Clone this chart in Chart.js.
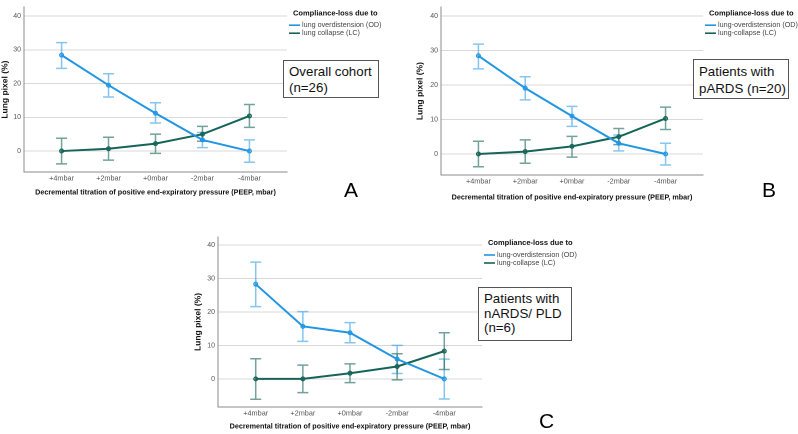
<!DOCTYPE html>
<html>
<head>
<meta charset="utf-8">
<script src="https://cdn.jsdelivr.net/npm/chart.js@4.4.1/dist/chart.umd.min.js"></script>
<style>
  body { margin: 0; background: #fff; width: 798px; height: 434px; position: relative; overflow: hidden; font-family: "Liberation Sans", Arial, sans-serif; }
  canvas { position: absolute; }
  .box { position: absolute; box-sizing: border-box; border: 1px solid #555; background: #fff; font-size: 13.3px; color: #111; white-space: nowrap; }
  .letter { position: absolute; font-size: 21px; line-height: 21px; color: #000; }
</style>
</head>
<body>
<canvas id="chartA"></canvas>
<canvas id="chartB"></canvas>
<canvas id="chartC"></canvas>

<div class="box" style="left:283px;top:60px;width:96px;height:38px;padding:3px 5px;line-height:16px;">Overall cohort<br>(n=26)</div>
<div class="box" style="left:693px;top:59px;width:96px;height:40px;padding:3px 5px;line-height:17px;">Patients with<br>pARDS (n=20)</div>
<div class="box" style="left:478px;top:287px;width:94px;height:54px;padding:4px 5px;line-height:14.5px;">Patients with<br>nARDS/ PLD<br>(n=6)</div>

<div class="letter" style="left:344px;top:179px;">A</div>
<div class="letter" style="left:762px;top:179px;">B</div>
<div class="letter" style="left:539px;top:410px;">C</div>

<script>
/* ---- data ---- */
const pressures = ['+4mbar', '+2mbar', '+0mbar', '-2mbar', '-4mbar'];
const yTicks = [0, 10, 20, 30, 40];

// A - overall cohort
const odA   = [28.4, 19.5, 11.2, 3.3, 0];
const odAHi = [32.1, 22.9, 14.3, 5.5, 3.3];
const odALo = [24.5, 16.0, 8.3, 1.0, -3.3];
const lcA   = [0, 0.7, 2.2, 5.0, 10.4];
const lcAHi = [3.8, 4.1, 5.0, 7.3, 13.8];
const lcALo = [-3.8, -2.7, -0.7, 2.9, 7.0];

// B - pARDS
const odB   = [28.5, 19.1, 11.0, 3.1, 0];
const odBHi = [31.9, 22.4, 13.8, 5.5, 3.1];
const odBLo = [24.7, 15.7, 8.0, 0.9, -3.2];
const lcB   = [0, 0.7, 2.2, 5.0, 10.3];
const lcBHi = [3.7, 4.1, 5.1, 7.4, 13.6];
const lcBLo = [-3.7, -2.7, -0.9, 2.7, 7.1];

// C - nARDS / PLD
const odC   = [28.3, 15.7, 13.8, 5.9, 0];
const odCHi = [34.9, 20.1, 16.8, 10.0, 5.9];
const odCLo = [21.6, 11.2, 10.8, 1.6, -6.0];
const lcC   = [0, 0, 1.7, 3.7, 8.3];
const lcCHi = [6.0, 4.1, 4.5, 7.5, 13.8];
const lcCLo = [-6.1, -4.1, -1.1, -0.3, 2.8];

const legendTitle = 'Compliance-loss due to';
const yTitle = 'Lung pixel (%)';
const xTitle = 'Decremental titration of positive end-expiratory pressure (PEEP, mbar)';

const FONT = '"Liberation Sans", Arial, sans-serif';
const OD_COLOR = 'rgb(33,150,227)';
const OD_ERR = 'rgba(33,150,227,0.55)';
const LC_COLOR = 'rgb(22,100,88)';
const LC_ERR = 'rgba(22,100,88,0.6)';

/* error bars, drawn under the lines */
const errorBars = {
  id: 'errorBars',
  beforeDatasetsDraw(chart) {
    const ctx = chart.ctx;
    const xs = chart.scales.x, ys = chart.scales.y;
    chart.data.datasets.forEach(ds => {
      ctx.save();
      ctx.strokeStyle = ds.errColor;
      ctx.lineWidth = 1.5;
      ds.errHi.forEach((hi, i) => {
        const px = xs.getPixelForValue(i);
        const top = ys.getPixelForValue(hi);
        const bot = ys.getPixelForValue(ds.errLo[i]);
        ctx.beginPath();
        ctx.moveTo(px, top); ctx.lineTo(px, bot);
        ctx.moveTo(px - 5.5, top); ctx.lineTo(px + 5.5, top);
        ctx.moveTo(px - 5.5, bot); ctx.lineTo(px + 5.5, bot);
        ctx.stroke();
      });
      ctx.restore();
    });
  }
};

/* legend block on the right of the plot */
const sideLegend = {
  id: 'sideLegend',
  afterDraw(chart) {
    const ctx = chart.ctx;
    const a = chart.chartArea;
    ctx.save();
    ctx.textBaseline = 'middle';
    ctx.fillStyle = '#111';
    ctx.font = 'bold 7.5px ' + FONT;
    ctx.fillText(legendTitle, a.right + 6, a.top + 6);
    ctx.font = '7.2px ' + FONT;
    chart.data.datasets.forEach((ds, i) => {
      const y = a.top + 18 + i * 8;
      ctx.strokeStyle = ds.borderColor;
      ctx.lineWidth = 1.6;
      ctx.beginPath();
      ctx.moveTo(a.right + 2, y); ctx.lineTo(a.right + 13, y);
      ctx.stroke();
      ctx.fillStyle = '#444';
      ctx.fillText(ds.label, a.right + 15, y);
    });
    ctx.restore();
  }
};

function series(vals) {
  return vals.map((v, i) => ({ x: i, y: v }));
}

function makeChart(id, opt) {
  const cv = document.getElementById(id);
  cv.style.left = opt.left + 'px';
  cv.style.top = opt.top + 'px';
  cv.style.width = opt.w + 'px';
  cv.style.height = opt.h + 'px';
  cv.width = opt.w; cv.height = opt.h;

  const ds = (label, vals, hi, lo, color, err) => ({
    label: label,
    data: series(vals),
    errHi: hi, errLo: lo, errColor: err,
    borderColor: color,
    backgroundColor: color,
    borderWidth: 2,
    pointRadius: 2,
    pointBorderWidth: 1,
    pointBackgroundColor: err,
    pointBorderColor: color,
    tension: 0
  });

  return new Chart(cv, {
    type: 'line',
    data: {
      datasets: [
        ds(opt.odLabel, opt.od, opt.odHi, opt.odLo, OD_COLOR, OD_ERR),
        ds(opt.lcLabel, opt.lc, opt.lcHi, opt.lcLo, LC_COLOR, LC_ERR)
      ]
    },
    options: {
      responsive: false,
      animation: false,
      devicePixelRatio: 2,
      layout: { padding: { left: 0, top: opt.plotTop, right: opt.w - opt.plotRight, bottom: 0 } },
      plugins: { legend: { display: false }, tooltip: { enabled: false } },
      scales: {
        x: {
          type: 'linear', min: -0.8, max: 4.8,
          afterBuildTicks: s => { s.ticks = pressures.map((p, i) => ({ value: i })); },
          afterFit: s => { s.height = opt.h - opt.plotBottom; },
          grid: { display: false, drawTicks: false },
          border: { display: true, color: '#8a8a8a', width: 1 },
          ticks: { color: '#555', font: { family: FONT, size: 7.3 }, padding: 2, maxRotation: 0,
                   callback: v => pressures[v] },
          title: { display: true, text: xTitle, color: '#111',
                   font: { family: FONT, size: 7.2, weight: 'bold' }, padding: { top: 0, bottom: 3 } }
        },
        y: {
          min: opt.yMin, max: opt.yMax,
          afterBuildTicks: s => { s.ticks = yTicks.map(v => ({ value: v })); },
          afterFit: s => { s.width = opt.plotLeft; },
          grid: { color: '#d9d9d9', lineWidth: 1, drawTicks: false },
          border: { display: true, color: '#8a8a8a', width: 1 },
          ticks: { color: '#555', font: { family: FONT, size: 7 }, padding: 3 },
          title: { display: true, text: yTitle, color: '#111',
                   font: { family: FONT, size: 8.5, weight: 'bold' }, padding: { top: opt.yTitlePad, bottom: 0 } }
        }
      }
    },
    plugins: [errorBars, sideLegend]
  });
}

makeChart('chartA', {
  left: 0, top: 0, w: 400, h: 200,
  plotLeft: 24, plotTop: 1, plotRight: 287, plotBottom: 172,
  yMin: -6.2, yMax: 42.6, yTitlePad: 0,
  odLabel: 'lung overdistension (OD)', lcLabel: 'lung collapse (LC)',
  od: odA, odHi: odAHi, odLo: odALo, lc: lcA, lcHi: lcAHi, lcLo: lcALo
});

makeChart('chartB', {
  left: 400, top: 0, w: 398, h: 205,
  plotLeft: 41, plotTop: 4, plotRight: 303, plotBottom: 175,
  yMin: -6.1, yMax: 42.6, yTitlePad: 15,
  odLabel: 'lung-overdistension (OD)', lcLabel: 'lung-collapse (LC)',
  od: odB, odHi: odBHi, odLo: odBLo, lc: lcB, lcHi: lcBHi, lcLo: lcBLo
});

makeChart('chartC', {
  left: 180, top: 200, w: 420, h: 234,
  plotLeft: 38, plotTop: 37, plotRight: 302, plotBottom: 207,
  yMin: -8.4, yMax: 42.4, yTitlePad: 13,
  odLabel: 'lung-overdistension (OD)', lcLabel: 'lung-collapse (LC)',
  od: odC, odHi: odCHi, odLo: odCLo, lc: lcC, lcHi: lcCHi, lcLo: lcCLo
});
</script>
</body>
</html>
